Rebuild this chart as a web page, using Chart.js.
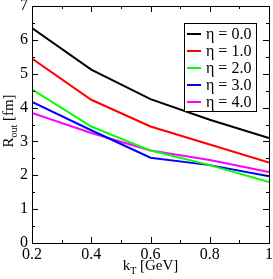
<!DOCTYPE html>
<html>
<head>
<meta charset="utf-8">
<script src="https://cdn.jsdelivr.net/npm/chart.js@4/dist/chart.umd.min.js"></script>
<style>
  html, body { margin: 0; padding: 0; background: #fff; }
  #wrap { width: 273px; height: 279px; }
</style>
</head>
<body>
<div id="wrap"><canvas id="c" width="273" height="279"></canvas></div>
<script>
// R_out vs k_T for several rapidities
const kT = [0.2, 0.4, 0.6, 0.8, 1.0];
const etaLabels = ['η = 0.0', 'η = 1.0', 'η = 2.0', 'η = 3.0', 'η = 4.0'];
const rEta0 = [6.35, 5.12, 4.25, 3.64, 3.10];
const rEta1 = [5.45, 4.23, 3.44, 2.91, 2.38];
const rEta2 = [4.54, 3.44, 2.73, 2.30, 1.80];
const rEta3 = [4.17, 3.33, 2.52, 2.30, 1.97];
const rEta4 = [3.84, 3.25, 2.73, 2.45, 2.10];
const lineColors = ['#000000', '#ff0000', '#00ff00', '#0000ff', '#ff00ff'];
const xMajor = [0.2, 0.4, 0.6, 0.8, 1.0];
const xMinor = [0.3, 0.5, 0.7, 0.9];
const yMajor = [0, 1, 2, 3, 4, 5, 6, 7];
const yMinor = [0.5, 1.5, 2.5, 3.5, 4.5, 5.5, 6.5];

const SERIF = '"Liberation Serif", "DejaVu Serif", serif';
const series = [rEta0, rEta1, rEta2, rEta3, rEta4];

const datasets = series.map((vals, i) => ({
  label: etaLabels[i],
  data: vals.map((v, j) => ({ x: kT[j], y: v })),
  borderColor: lineColors[i],
  backgroundColor: lineColors[i],
  borderWidth: 2,
  pointRadius: 0,
  tension: 0,
  fill: false,
}));

// keep tick labels from pushing the plot area inward
function fixBox(s, size) {
  if (s.isHorizontal()) s.height = size; else s.width = size;
  s.paddingTop = 0; s.paddingBottom = 0; s.paddingLeft = 0; s.paddingRight = 0;
}

// draws "main" + subscript + rest starting at x, baseline 0 of current transform
function subText(ctx, x, main, sub, rest, size, subSize, drop) {
  ctx.font = size + 'px ' + SERIF;
  const w1 = ctx.measureText(main).width;
  ctx.fillText(main, x, 0);
  ctx.font = subSize + 'px ' + SERIF;
  const w2 = ctx.measureText(sub).width;
  ctx.fillText(sub, x + w1, drop);
  ctx.font = size + 'px ' + SERIF;
  ctx.fillText(rest, x + w1 + w2, 0);
}
function subWidth(ctx, main, sub, rest, size, subSize) {
  ctx.font = size + 'px ' + SERIF;
  let w = ctx.measureText(main).width + ctx.measureText(rest).width;
  ctx.font = subSize + 'px ' + SERIF;
  return w + ctx.measureText(sub).width;
}

// frame, inward ticks, axis titles with subscripts, legend box
const decor = {
  id: 'decor',
  afterDraw(chart) {
    const { ctx, chartArea: a, scales: { x, y } } = chart;
    ctx.save();
    ctx.strokeStyle = '#000';
    ctx.lineWidth = 1;
    ctx.strokeRect(Math.round(a.left) + 0.5, Math.round(a.top) + 0.5,
      Math.round(a.right - a.left), Math.round(a.bottom - a.top));

    const tick = (x1, y1, x2, y2) => {
      ctx.beginPath(); ctx.moveTo(x1, y1); ctx.lineTo(x2, y2); ctx.stroke();
    };
    const xs = (v, len) => {
      const px = Math.round(x.getPixelForValue(v)) + 0.5;
      tick(px, a.bottom, px, a.bottom - len);
      tick(px, a.top, px, a.top + len);
    };
    const ys = (v, len) => {
      const py = Math.round(y.getPixelForValue(v)) + 0.5;
      tick(a.left, py, a.left + len, py);
      tick(a.right, py, a.right - len, py);
    };
    xMajor.forEach(v => xs(v, 6));
    xMinor.forEach(v => xs(v, 3));
    yMajor.forEach(v => ys(v, 6));
    yMinor.forEach(v => ys(v, 3));

    ctx.fillStyle = '#000';
    ctx.textBaseline = 'alphabetic';
    ctx.textAlign = 'left';

    // x title: k_T [GeV]
    ctx.save();
    ctx.translate((a.left + a.right) / 2, 270);
    const wx = subWidth(ctx, 'k', 'T', ' [GeV]', 15, 10);
    subText(ctx, -wx / 2, 'k', 'T', ' [GeV]', 15, 10, 4);
    ctx.restore();

    // y title: R_out [fm]
    ctx.save();
    ctx.translate(13, 121);
    ctx.rotate(-Math.PI / 2);
    const wy = subWidth(ctx, 'R', 'out', ' [fm]', 15, 10);
    subText(ctx, -wy / 2, 'R', 'out', ' [fm]', 15, 10, 4);
    ctx.restore();

    // legend
    const lx = 184, ly = 23, lw = 72, lh = 88;
    ctx.fillStyle = '#fff';
    ctx.fillRect(lx, ly, lw, lh);
    ctx.strokeStyle = '#000';
    ctx.lineWidth = 1;
    ctx.strokeRect(lx + 0.5, ly + 0.5, lw, lh);
    ctx.font = '16px ' + SERIF;
    ctx.textBaseline = 'middle';
    chart.data.datasets.forEach((ds, i) => {
      const ry = ly + 11 + i * 17;
      ctx.strokeStyle = ds.borderColor;
      ctx.lineWidth = 2;
      tick(lx + 3, ry, lx + 17, ry);
      ctx.fillStyle = '#000';
      ctx.fillText(ds.label, lx + 22, ry + 1);
    });
    ctx.restore();
  }
};

new Chart(document.getElementById('c').getContext('2d'), {
  type: 'line',
  data: { datasets },
  options: {
    responsive: false,
    animation: false,
    devicePixelRatio: 1,
    layout: { padding: { top: 6, right: 4, left: 0, bottom: 0 } },
    plugins: { legend: { display: false }, tooltip: { enabled: false } },
    scales: {
      x: {
        type: 'linear', min: 0.2, max: 1.0,
        afterFit: (s) => fixBox(s, 36),
        grid: { display: false, drawTicks: false },
        border: { display: false },
        afterBuildTicks: (s) => { s.ticks = xMajor.map(v => ({ value: v })); },
        ticks: {
          color: '#000', padding: 2,
          font: { family: SERIF, size: 16 },
          maxRotation: 0,
          callback: (v) => v === 1 ? '1' : Number(v).toFixed(1),
        },
      },
      y: {
        type: 'linear', min: 0, max: 7,
        afterFit: (s) => fixBox(s, 32),
        grid: { display: false, drawTicks: false },
        border: { display: false },
        afterBuildTicks: (s) => { s.ticks = yMajor.map(v => ({ value: v })); },
        ticks: {
          color: '#000', padding: 4,
          font: { family: SERIF, size: 16 },
          callback: (v) => String(v),
        },
      },
    },
  },
  plugins: [decor],
});
</script>
</body>
</html>
